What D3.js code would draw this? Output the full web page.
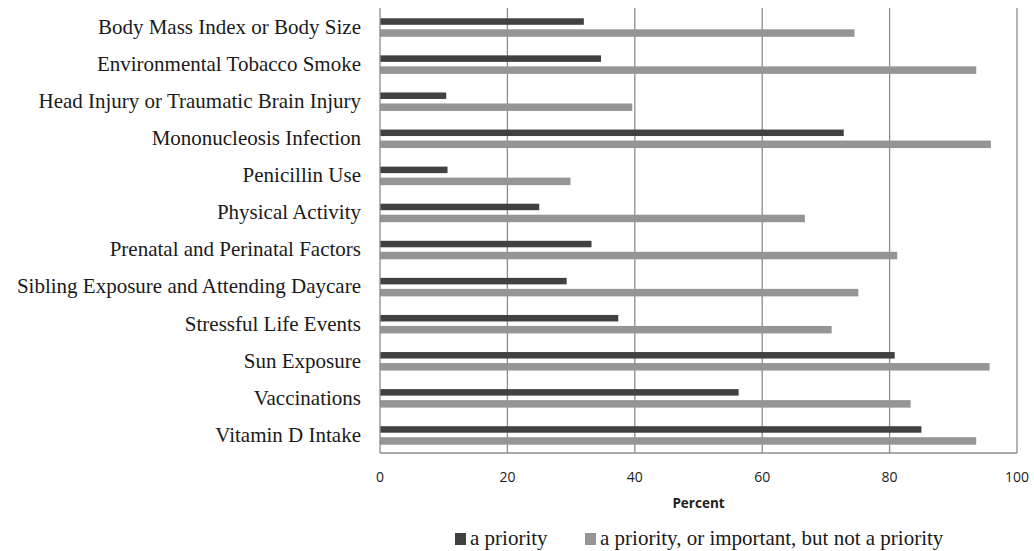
<!DOCTYPE html>
<html>
<head>
<meta charset="utf-8">
<script src="https://cdn.jsdelivr.net/npm/d3@7"></script>
<style>
  body { margin: 0; background: #fff; }
  svg { display: block; }
  .cat text { font-family: "Liberation Serif", "DejaVu Serif", serif; font-size: 21px; fill: #1a1a1a; }
  .xaxis text { font-family: "Open Sans", "Liberation Sans", sans-serif; font-size: 14px; fill: #222; }
  .legend text { font-family: "Liberation Serif", serif; font-size: 21px; fill: #1a1a1a; }
</style>
</head>
<body>
<div id="chart"></div>
<script>
var categories = [
    "Body Mass Index or Body Size",
    "Environmental Tobacco Smoke",
    "Head Injury or Traumatic Brain Injury",
    "Mononucleosis Infection",
    "Penicillin Use",
    "Physical Activity",
    "Prenatal and Perinatal Factors",
    "Sibling Exposure and Attending Daycare",
    "Stressful Life Events",
    "Sun Exposure",
    "Vaccinations",
    "Vitamin D Intake"
];
var priority    = [32.0, 34.7, 10.4, 72.8, 10.6, 25.0, 33.2, 29.3, 37.4, 80.8, 56.3, 85.0];
var priorityImp = [74.5, 93.6, 39.6, 95.9, 29.9, 66.7, 81.2, 75.1, 70.9, 95.7, 83.3, 93.6];
var xTicks = [0, 20, 40, 60, 80, 100];
var seriesNames = ["a priority", "a priority, or important, but not a priority"];
var seriesColors = ["#414141", "#959595"];

var width = 1034, height = 551;
var margin = {top: 8, right: 17, bottom: 98, left: 380};
var innerW = width - margin.left - margin.right,
    innerH = height - margin.top - margin.bottom;

var svg = d3.select("#chart").append("svg")
    .attr("width", width)
    .attr("height", height);

var main = svg.append("g")
    .attr("transform", "translate(" + margin.left + "," + margin.top + ")");

/* Scales */
var x = d3.scaleLinear().domain([0, 100]).range([0, innerW]);
var y = d3.scaleBand().domain(categories).range([0, innerH]);

/* Gridlines */
main.selectAll(".grid")
    .data(xTicks.slice(1))
    .enter()
    .append("line")
        .attr("class", "grid")
        .attr("x1", function(d){ return x(d); })
        .attr("x2", function(d){ return x(d); })
        .attr("y1", 0)
        .attr("y2", innerH)
        .attr("stroke", "#8c8c8c")
        .attr("stroke-width", 1.3);

/* Bars */
var dark = 6.5, light = 7.5, gap = 4.5;
var pairH = dark + gap + light;

main.selectAll(".bar-p")
    .data(priority)
    .enter()
    .append("rect")
        .attr("class", "bar-p")
        .attr("x", 0)
        .attr("y", function(d, i){ return y(categories[i]) + y.bandwidth()/2 - pairH/2 + 1; })
        .attr("width", function(d){ return x(d); })
        .attr("height", dark)
        .attr("fill", seriesColors[0]);

main.selectAll(".bar-pi")
    .data(priorityImp)
    .enter()
    .append("rect")
        .attr("class", "bar-pi")
        .attr("x", 0)
        .attr("y", function(d, i){ return y(categories[i]) + y.bandwidth()/2 - pairH/2 + 1 + dark + gap; })
        .attr("width", function(d){ return x(d); })
        .attr("height", light)
        .attr("fill", seriesColors[1]);

/* Axis lines */
main.append("line")
    .attr("x1", 0).attr("x2", 0).attr("y1", 0).attr("y2", innerH)
    .attr("stroke", "#8c8c8c").attr("stroke-width", 1.3);
main.append("line")
    .attr("x1", 0).attr("x2", innerW).attr("y1", innerH).attr("y2", innerH)
    .attr("stroke", "#8c8c8c").attr("stroke-width", 1.3);

/* Category labels */
main.append("g").attr("class", "cat")
    .selectAll("text")
    .data(categories)
    .enter()
    .append("text")
        .attr("x", -19)
        .attr("y", function(d){ return y(d) + y.bandwidth()/2; })
        .attr("dy", "0.35em")
        .attr("text-anchor", "end")
        .text(function(d){ return d; });

/* X axis labels */
var xa = main.append("g").attr("class", "xaxis");
xa.selectAll(".tick")
    .data(xTicks)
    .enter()
    .append("text")
        .attr("class", "tick")
        .attr("x", function(d){ return x(d); })
        .attr("y", innerH + 29)
        .attr("text-anchor", "middle")
        .text(function(d){ return d; });
xa.append("text")
    .attr("x", x(50))
    .attr("y", innerH + 55)
    .attr("text-anchor", "middle")
    .style("font-weight", "bold")
    .style("font-size", "13.5px")
    .text("Percent");

/* Legend */
var legendX = [455, 585];
var legend = svg.append("g").attr("class", "legend")
    .selectAll("g")
    .data(seriesNames)
    .enter()
    .append("g")
        .attr("transform", function(d, i){ return "translate(" + legendX[i] + ",533)"; });
legend.append("rect")
    .attr("width", 11).attr("height", 12).attr("y", 0)
    .attr("fill", function(d, i){ return seriesColors[i]; });
legend.append("text")
    .attr("x", 15)
    .attr("y", 12)
    .text(function(d){ return d; });
</script>
</body>
</html>
